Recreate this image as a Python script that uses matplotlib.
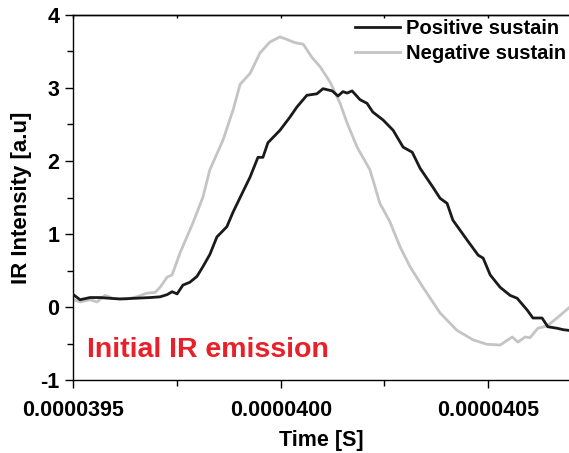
import numpy as np
import matplotlib
matplotlib.use("Agg")
import matplotlib.pyplot as plt
from matplotlib.ticker import FixedLocator, FuncFormatter

plt.rcParams['font.family'] = ['Liberation Sans', 'DejaVu Sans']
plt.rcParams['font.weight'] = 'bold'
plt.rcParams['axes.unicode_minus'] = False

# time in microseconds, intensity in a.u.
pos_time_us = [39.500, 39.516, 39.540, 39.564, 39.588, 39.612, 39.648, 39.685,
               39.709, 39.726, 39.738, 39.750, 39.764, 39.781, 39.798, 39.812,
               39.829, 39.846, 39.870, 39.885, 39.902, 39.926, 39.945, 39.957,
               39.969, 39.998, 40.022, 40.039, 40.063, 40.087, 40.102, 40.124,
               40.138, 40.150, 40.160, 40.172, 40.191, 40.208, 40.222, 40.247,
               40.271, 40.295, 40.317, 40.336, 40.367, 40.384, 40.401, 40.415,
               40.449, 40.476, 40.488, 40.505, 40.529, 40.553, 40.570, 40.594,
               40.608, 40.630, 40.644, 40.666, 40.681, 40.695]
pos_sustain = [0.17, 0.10, 0.13, 0.13, 0.12, 0.11, 0.12, 0.13,
               0.14, 0.17, 0.21, 0.18, 0.30, 0.34, 0.42, 0.55,
               0.72, 0.96, 1.10, 1.30, 1.50, 1.78, 2.05, 2.05,
               2.25, 2.42, 2.60, 2.74, 2.90, 2.92, 2.99, 2.96,
               2.89, 2.95, 2.93, 2.96, 2.84, 2.79, 2.67, 2.56,
               2.42, 2.19, 2.12, 1.90, 1.64, 1.49, 1.42, 1.19,
               0.92, 0.71, 0.67, 0.44, 0.27, 0.16, 0.12, -0.04,
               -0.15, -0.15, -0.27, -0.29, -0.31, -0.32]

neg_time_us = [39.500, 39.516, 39.540, 39.557, 39.576, 39.595, 39.629, 39.653,
               39.677, 39.697, 39.709, 39.726, 39.738, 39.757, 39.788, 39.812,
               39.829, 39.861, 39.885, 39.902, 39.926, 39.950, 39.974, 39.998,
               40.017, 40.034, 40.054, 40.075, 40.095, 40.119, 40.143, 40.160,
               40.184, 40.215, 40.239, 40.263, 40.288, 40.312, 40.343, 40.384,
               40.425, 40.464, 40.497, 40.529, 40.558, 40.572, 40.589, 40.601,
               40.620, 40.642, 40.666, 40.695]
neg_sustain = [0.10, 0.07, 0.10, 0.07, 0.16, 0.12, 0.11, 0.14,
               0.19, 0.20, 0.27, 0.41, 0.44, 0.74, 1.15, 1.50,
               1.88, 2.29, 2.70, 3.05, 3.20, 3.48, 3.63, 3.70,
               3.66, 3.62, 3.60, 3.42, 3.29, 3.08, 2.79, 2.52,
               2.19, 1.88, 1.42, 1.17, 0.82, 0.55, 0.27, -0.08,
               -0.32, -0.45, -0.51, -0.52, -0.41, -0.48, -0.41, -0.42,
               -0.29, -0.26, -0.15, -0.01]

x_ticks = [3.95e-5, 4.00e-5, 4.05e-5]
y_ticks = [-1, 0, 1, 2, 3, 4]

fig = plt.figure(figsize=(5.69, 4.53), dpi=100)
ax = fig.add_axes([0.129, 0.161, 0.871, 0.806])

ax.plot(np.array(neg_time_us) * 1e-6, neg_sustain, color='#c4c4c4', lw=2.0,
        label='Negative sustain', zorder=2)
ax.plot(np.array(pos_time_us) * 1e-6, pos_sustain, color='#1a1a1a', lw=2.0,
        label='Positive sustain', zorder=3)

ax.set_xlim(39.5e-6, 40.695e-6)
ax.set_ylim(-1, 4)

ax.xaxis.set_major_locator(FixedLocator(x_ticks))
ax.xaxis.set_minor_locator(FixedLocator([3.975e-5, 4.025e-5, 4.075e-5]))
ax.xaxis.set_major_formatter(FuncFormatter(lambda v, p: '%.7f' % v))
ax.yaxis.set_major_locator(FixedLocator(y_ticks))
ax.yaxis.set_minor_locator(FixedLocator([-0.5, 0.5, 1.5, 2.5, 3.5]))

ax.tick_params(axis='both', which='major', direction='out', length=6, width=1.0,
               labelsize=15.5, pad=4)
ax.tick_params(axis='both', which='minor', direction='out', length=4, width=1.0)
ax.tick_params(axis='x', which='major', pad=8)

# small inward ticks on the top spine
top = ax.secondary_xaxis('top')
top.xaxis.set_major_locator(FixedLocator(x_ticks))
top.xaxis.set_minor_locator(FixedLocator([3.975e-5, 4.025e-5]))
top.tick_params(which='both', direction='in', length=2, width=1.0, labeltop=False)
top.spines['top'].set_linewidth(1.0)

for s in ['left', 'bottom', 'top']:
    ax.spines[s].set_linewidth(1.0)
ax.spines['right'].set_visible(False)

ax.set_xlabel('Time [S]', fontsize=15.5, fontweight='bold', labelpad=7)
ax.set_ylabel('IR Intensity [a.u]', fontsize=16, fontweight='bold', labelpad=6)

h, l = ax.get_legend_handles_labels()
ax.legend(h[::-1], l[::-1], loc='upper right', frameon=False, fontsize=14.5,
          handlelength=2.2, handletextpad=0.3, labelspacing=0.3,
          borderaxespad=0.0, bbox_to_anchor=(1.01, 1.01))

ax.text(0.027, 0.063, 'Initial IR emission', transform=ax.transAxes,
        color='#e8202a', fontsize=20.5, fontweight='bold', va='baseline')

fig.savefig('out.png', dpi=100)
